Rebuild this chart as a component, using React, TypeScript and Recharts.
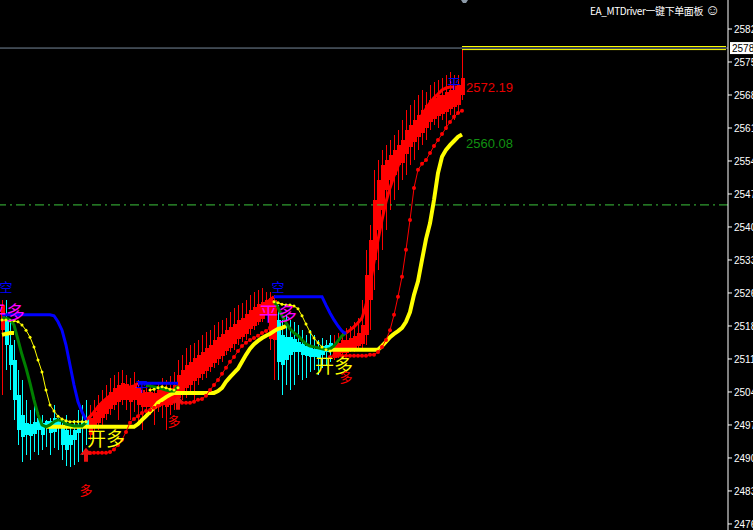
import React from 'react';
import {
  ComposedChart,
  XAxis,
  YAxis,
  Bar,
  Line,
  ReferenceLine,
  ReferenceDot,
} from 'recharts';

// candles (oldest first)
const opens = [
  2518.0, 2520.2, 2514.8, 2511.6, 2504.1, 2499.8, 2498.0, 2497.8, 2498.2, 2499.0,
  2498.0, 2498.5, 2498.5, 2499.0, 2498.9, 2497.0, 2496.5, 2495.5, 2496.5, 2497.5,
  2498.5, 2499.0, 2495.5, 2497.0, 2498.0, 2499.0, 2500.0, 2501.0, 2502.0, 2502.5,
  2503.0, 2503.0, 2502.5, 2503.0, 2502.0, 2501.5, 2501.5, 2501.5, 2501.0, 2501.5,
  2502.0, 2501.5, 2502.0, 2502.5, 2503.5, 2504.5, 2505.5, 2506.2, 2507.0, 2507.7,
  2508.5, 2509.2, 2510.0, 2511.0, 2511.8, 2512.5, 2513.5, 2514.2, 2515.0, 2516.0,
  2516.5, 2517.2, 2518.2, 2519.0, 2519.8, 2520.5, 2521.5, 2516.0, 2515.9, 2520.2,
  2517.0, 2516.5, 2516.5, 2516.0, 2515.5, 2515.0, 2514.5, 2514.5, 2514.0, 2514.0,
  2514.5, 2514.8, 2515.2, 2512.0, 2512.5, 2513.0, 2513.0, 2513.5, 2514.0, 2514.5,
  2515.0, 2517.0, 2524.5, 2533.1, 2539.6, 2543.9, 2548.2, 2550.3, 2551.4, 2553.5,
  2554.0, 2556.0, 2557.5, 2558.5, 2559.5, 2560.5, 2561.5, 2562.8, 2563.5, 2564.0,
  2564.5, 2565.0, 2565.5, 2566.0, 2566.5, 2568.6,
];
const highs = [
  2524.5, 2524.5, 2520.2, 2515.9, 2509.4, 2507.3, 2503.0, 2500.8, 2501.9, 2500.4,
  2499.8, 2498.7, 2499.1, 2501.9, 2499.1, 2498.7, 2499.8, 2497.6, 2498.7, 2500.8,
  2501.9, 2503.0, 2501.9, 2503.0, 2504.1, 2505.1, 2506.2, 2507.7, 2508.4, 2509.0,
  2509.4, 2508.4, 2507.7, 2509.0, 2507.3, 2506.9, 2506.2, 2506.6, 2506.0, 2506.9,
  2507.7, 2507.3, 2508.2, 2509.0, 2511.6, 2512.7, 2514.2, 2514.8, 2515.3, 2515.9,
  2517.0, 2517.6, 2518.0, 2519.1, 2519.8, 2520.2, 2520.6, 2521.9, 2522.8, 2523.4,
  2523.9, 2524.5, 2525.6, 2526.2, 2526.7, 2527.1, 2526.2, 2526.2, 2525.6, 2523.4,
  2520.2, 2521.3, 2520.2, 2519.8, 2519.1, 2518.0, 2517.0, 2518.0, 2517.0, 2515.9,
  2516.3, 2515.9, 2517.0, 2517.0, 2517.4, 2518.0, 2518.5, 2518.9, 2519.8, 2520.6,
  2524.5, 2535.3, 2540.6, 2552.5, 2554.6, 2556.8, 2557.8, 2558.9, 2560.0, 2561.1,
  2563.2, 2565.4, 2566.5, 2567.5, 2568.6, 2569.7, 2569.2, 2570.7, 2571.4, 2571.8,
  2572.3, 2572.9, 2573.5, 2572.9, 2572.9, 2578.3,
];
const lows = [
  2504.1, 2509.4, 2505.1, 2498.7, 2493.3, 2489.6, 2491.2, 2490.1, 2491.8, 2491.2,
  2492.3, 2492.9, 2491.2, 2492.7, 2492.3, 2490.1, 2488.8, 2488.6, 2489.0, 2489.6,
  2491.2, 2493.3, 2494.4, 2496.1, 2496.5, 2497.6, 2498.7, 2499.8, 2500.8, 2498.7,
  2501.9, 2500.8, 2498.7, 2500.4, 2497.6, 2496.5, 2499.1, 2499.8, 2497.6, 2500.4,
  2499.1, 2496.5, 2499.8, 2500.8, 2501.9, 2503.0, 2503.4, 2504.1, 2502.4, 2506.2,
  2507.3, 2507.7, 2509.0, 2509.9, 2510.5, 2511.2, 2512.7, 2513.3, 2513.8, 2514.8,
  2515.5, 2515.9, 2517.0, 2518.0, 2519.1, 2519.8, 2521.3, 2513.8, 2507.3, 2507.3,
  2504.1, 2506.2, 2505.1, 2506.2, 2508.4, 2507.3, 2507.7, 2509.0, 2509.4, 2508.4,
  2509.9, 2510.5, 2511.2, 2511.6, 2512.0, 2512.7, 2512.7, 2513.3, 2513.3, 2513.8,
  2514.2, 2514.8, 2518.0, 2526.7, 2531.0, 2535.3, 2539.6, 2543.9, 2546.0, 2548.2,
  2550.3, 2551.4, 2553.5, 2554.6, 2556.8, 2557.8, 2558.9, 2561.1, 2562.1, 2561.5,
  2563.2, 2561.1, 2564.3, 2563.2, 2565.0, 2567.5,
];
const closes = [
  2523.4, 2514.8, 2510.5, 2503.0, 2496.5, 2495.0, 2495.5, 2495.2, 2495.6, 2496.5,
  2495.5, 2497.0, 2495.9, 2496.1, 2497.0, 2493.3, 2492.3, 2493.3, 2494.4, 2495.9,
  2497.0, 2497.6, 2499.1, 2500.4, 2501.9, 2502.6, 2503.4, 2504.7, 2505.6, 2506.2,
  2506.6, 2506.4, 2505.8, 2506.2, 2505.6, 2505.1, 2504.7, 2504.7, 2504.5, 2505.1,
  2505.6, 2505.1, 2505.6, 2506.2, 2508.4, 2509.4, 2510.5, 2511.2, 2512.0, 2512.7,
  2513.3, 2514.2, 2514.8, 2515.9, 2516.5, 2517.2, 2518.0, 2518.7, 2519.3, 2520.2,
  2520.6, 2521.5, 2522.4, 2523.0, 2523.6, 2524.1, 2524.5, 2524.9, 2524.5, 2511.2,
  2510.5, 2511.6, 2512.7, 2513.3, 2513.3, 2512.7, 2512.5, 2512.2, 2512.2, 2512.0,
  2512.7, 2513.3, 2514.2, 2514.8, 2515.3, 2515.9, 2515.9, 2516.3, 2516.8, 2517.4,
  2519.1, 2529.9, 2537.4, 2546.0, 2550.3, 2553.5, 2554.6, 2555.7, 2556.8, 2557.8,
  2558.9, 2561.1, 2562.1, 2563.2, 2564.3, 2565.4, 2566.5, 2567.5, 2568.0, 2568.6,
  2568.6, 2569.2, 2569.7, 2570.1, 2570.7, 2572.19,
];
// bars painted cyan (down trend), the rest red
const cyanRanges = [[1, 21], [69, 82]];

// indicator lines, as first bar + values
const blueLine = [
  { from: 0, v: [2521.3, 2521.3, 2521.3, 2521.3, 2521.3, 2521.3, 2521.3, 2521.3, 2521.3, 2521.3, 2521.3, 2521.3, 2521.3, 2521.1, 2519.8, 2518.0, 2514.8, 2510.5, 2506.2, 2502.6, 2500.4, 2498.7] },
  { from: 34, v: [2506.6, 2506.6, 2506.6, 2506.6, 2506.6, 2506.6, 2506.6, 2506.6, 2506.6, 2506.6, 2506.6] },
  { from: 68, v: [2525.2, 2525.2, 2525.2, 2525.2, 2525.2, 2525.2, 2525.2, 2525.2, 2525.2, 2525.2, 2525.2, 2525.2, 2525.2, 2523.4, 2521.7, 2520.2, 2518.9, 2517.8, 2517.2] },
];
const redLine = [
  { from: 21, v: [2498.7, 2499.4, 2500.4, 2501.5, 2502.4, 2503.2, 2503.9, 2504.5, 2504.9, 2505.4, 2505.6, 2505.8, 2506.0, 2506.6] },
  { from: 44, v: [2506.6, 2507.1, 2507.7, 2508.4, 2509.0, 2509.7, 2510.5, 2511.2, 2512.0, 2512.9, 2513.8, 2514.6, 2515.5, 2516.3, 2517.4, 2518.3, 2519.1, 2520.0, 2520.9, 2521.7, 2522.4, 2523.2, 2523.9, 2524.5, 2525.2] },
  { from: 86, v: [2517.4, 2518.0, 2518.7, 2519.6, 2520.6, 2523.4, 2527.7, 2532.7, 2537.4, 2541.7, 2545.6, 2548.6, 2551.2, 2553.3, 2555.5, 2557.6, 2559.6, 2561.3, 2562.8, 2564.3, 2565.6, 2566.9, 2568.0, 2568.8, 2569.7, 2570.1, 2570.3, 2570.3, 2570.3, 2570.3] },
];
const greenLine = [
  { from: 0, v: [2520.6, 2520.6, 2520.2, 2519.1, 2515.9, 2512.7, 2509.9, 2506.6, 2503.0, 2499.8, 2497.6, 2497.2, 2497.6, 2498.3, 2498.7, 2498.5, 2497.8, 2497.6, 2497.4, 2497.4, 2497.4, 2498.1] },
  { from: 36, v: [2506.2, 2506.0, 2505.8, 2505.6, 2505.4, 2505.1, 2504.9, 2504.9, 2506.0] },
  { from: 68, v: [2524.3, 2522.8, 2521.1, 2519.6, 2518.3, 2517.4, 2516.8, 2515.9, 2515.0, 2514.6, 2514.4, 2514.2, 2514.0, 2513.8, 2514.0, 2514.6, 2515.7, 2516.8, 2517.4] },
];
const yellowDotted = [
  { from: 0, v: [2520.2, 2520.2, 2520.0, 2520.0, 2519.8, 2519.1, 2518.0, 2516.5, 2514.4, 2511.6, 2509.0, 2505.1, 2501.9, 2500.6, 2499.5, 2498.9, 2498.5, 2498.3, 2498.3, 2498.3, 2498.3, 2498.3] },
  { from: 37, v: [2505.1, 2505.3, 2505.6, 2505.8, 2505.6, 2505.3, 2505.1, 2505.6] },
  { from: 68, v: [2524.1, 2523.9, 2523.6, 2523.4, 2523.4, 2523.2, 2522.6, 2521.1, 2519.3, 2517.6, 2516.3, 2515.3, 2514.4, 2513.8, 2513.5] },
];
const yellowTrend = [
  { from: 0, v: [2517.0, 2517.2, 2517.4, 2517.4] },
  { from: 11, v: [2497.2, 2497.2, 2497.2, 2497.2, 2497.2, 2497.2, 2497.2, 2497.2, 2497.2, 2497.2, 2497.2, 2497.2, 2497.2, 2497.2, 2497.2, 2497.2, 2497.2, 2497.2, 2497.2, 2497.2, 2497.2, 2497.2, 2497.2, 2497.8, 2498.7, 2499.5, 2500.4, 2501.3, 2502.4, 2503.0, 2503.6, 2504.1, 2504.5, 2504.5, 2504.5, 2504.5, 2504.5, 2504.5, 2504.5, 2504.5, 2504.5, 2504.5, 2504.5, 2504.9, 2505.6, 2506.9, 2507.9, 2508.8, 2509.7, 2511.2, 2512.7, 2514.0, 2515.0, 2515.7, 2516.3, 2516.8, 2517.2, 2517.8, 2518.3, 2518.5, 2518.9] },
  { from: 82, v: [2513.8, 2513.8, 2513.8, 2513.8, 2513.8, 2513.8, 2513.8, 2513.8, 2513.8, 2513.8, 2513.8, 2513.8, 2513.8, 2514.6, 2515.5, 2516.5, 2517.2, 2517.8, 2518.5, 2519.8, 2521.9, 2525.6, 2528.5, 2533.1, 2537.6, 2541.0, 2546.0, 2551.8, 2555.3, 2556.8, 2557.8, 2558.7, 2559.6, 2560.1] },
];
const redDotted = [
  { from: 21, v: [2491.6, 2491.6, 2491.6, 2491.6, 2491.6, 2491.6, 2491.8, 2492.3, 2493.3, 2494.4, 2496.1, 2498.1, 2498.9, 2499.5, 2500.2, 2500.6, 2500.8, 2501.3, 2501.7, 2502.1, 2502.4, 2502.6, 2502.6, 2502.6, 2502.4, 2502.4, 2502.4, 2502.6, 2503.0, 2503.2, 2503.9, 2505.1, 2506.2, 2507.3, 2508.6, 2509.9, 2511.2, 2512.2, 2513.5, 2514.6, 2515.3, 2515.9, 2516.3, 2516.8, 2517.4, 2517.8, 2518.5, 2518.9] },
  { from: 82, v: [2512.2, 2512.5, 2512.5, 2512.5, 2512.5, 2512.5, 2512.5, 2512.5, 2512.5, 2512.5, 2512.7, 2512.7, 2513.3, 2514.4, 2515.9, 2518.0, 2521.3, 2525.2, 2529.5, 2535.3, 2541.7, 2548.6, 2552.5, 2553.8, 2554.6, 2556.1, 2557.6, 2558.9, 2560.2, 2561.5, 2562.8, 2563.9, 2564.7, 2565.2] },
];

// price scale
const priceTicks = [2476.3, 2483.4, 2490.5, 2497.6, 2504.7, 2511.8, 2518.9, 2526.0, 2533.1, 2540.2, 2547.3, 2554.4, 2561.5, 2568.6, 2575.7, 2582.8];
const bidPrice = 2578.7;
const levelLine = 2544.95;

// chart objects
const signs = [
  { i: 1, p: 2527.3, text: '空', color: '#0000ff', size: 13 },
  { i: 1, p: 2522.1, text: '平多', color: '#ff00ff', size: 19 },
  { i: 69, p: 2527.3, text: '空', color: '#0000ff', size: 13 },
  { i: 69, p: 2521.9, text: '平多', color: '#ff00ff', size: 19 },
  { i: 26, p: 2495.0, text: '开多', color: '#ffff00', size: 19 },
  { i: 83, p: 2510.7, text: '开多', color: '#ffff00', size: 19 },
  { i: 21, p: 2483.8, text: '多', color: '#ff0000', size: 13 },
  { i: 43, p: 2498.5, text: '多', color: '#ff0000', size: 13 },
  { i: 86, p: 2508.0, text: '多', color: '#ff0000', size: 13 },
  { i: 35, p: 2506.0, text: '平', color: '#0000ff', size: 13 },
  { i: 113, p: 2571.2, text: '平', color: '#0000ff', size: 13 },
];
const buyArrows = [{ i: 21, p: 2491.2 }, { i: 44, p: 2502.4 }];
const lastTags = [
  { p: 2572.19, color: '#e80000' },
  { p: 2560.08, color: '#119111' },
];

const BARS = opens.length;
const SLOTS = 182; // empty room on the right (chart shift)

const expand = (segs: { from: number; v: number[] }[]) => {
  const out: (number | null)[] = new Array(BARS).fill(null);
  segs.forEach(s => s.v.forEach((val, k) => { out[s.from + k] = val; }));
  return out;
};

const blueArr = expand(blueLine);
const redArr = expand(redLine);
const greenArr = expand(greenLine);
const yDotArr = expand(yellowDotted);
const yTrendArr = expand(yellowTrend);
const rDotArr = expand(redDotted);

const data = Array.from({ length: SLOTS }, (_, i) => {
  if (i >= BARS) return { i };
  return {
    i,
    range: [lows[i], highs[i]],
    open: opens[i],
    close: closes[i],
    high: highs[i],
    low: lows[i],
    cyan: cyanRanges.some(([a, b]) => i >= a && i <= b),
    blue: blueArr[i],
    red: redArr[i],
    green: greenArr[i],
    ydot: yDotArr[i],
    ytrend: yTrendArr[i],
    rdot: rDotArr[i],
  };
});

const Candle = (props: any) => {
  const { x, y, width, height, payload } = props;
  if (!payload || payload.high == null) return null;
  const h = Math.abs(height);
  const top = Math.min(y, y + height);
  const k = payload.high > payload.low ? h / (payload.high - payload.low) : 0;
  const yOf = (v: number) => top + (payload.high - v) * k;
  const yo = yOf(payload.open);
  const yc = yOf(payload.close);
  const cx = Math.floor(x + width / 2);
  const color = payload.cyan ? '#00ffff' : '#ff0000';
  return (
    <g shapeRendering="crispEdges">
      <rect x={cx} y={top} width={1} height={Math.max(1, h)} fill={color} />
      <rect x={cx - 1} y={Math.min(yo, yc)} width={4} height={Math.max(1, Math.abs(yo - yc))} fill={color} />
    </g>
  );
};

const cjk = '"Noto Sans CJK SC", "Liberation Sans", sans-serif';
const latin = '"Liberation Sans", Arial, sans-serif';

const App = () => {
  return (
    <div style={{ position: 'absolute', left: 0, top: 0, width: 753, height: 530, background: '#000', overflow: 'hidden' }}>
      <ComposedChart width={753} height={530} data={data} margin={{ top: 0, right: 0, left: 0, bottom: 0 }}>
        <XAxis dataKey="i" type="category" hide />
        <YAxis
          orientation="right"
          width={25}
          domain={[2475, 2589.04]}
          allowDataOverflow
          ticks={priceTicks}
          tickFormatter={(v: number) => v.toFixed(2)}
          stroke="#ffffff"
          tickSize={4}
          tickMargin={2}
          tick={{ fill: '#ffffff', fontSize: 10, fontFamily: latin, textAnchor: 'start' }}
        />
        <ReferenceLine y={levelLine} stroke="#3cc43c" strokeDasharray="9 4 2 4" />
        <ReferenceLine y={bidPrice} stroke="#778899" />
        <ReferenceLine segment={[{ x: 115, y: bidPrice + 0.33 }, { x: 181, y: bidPrice + 0.33 }]} stroke="#ffff00" />
        <ReferenceLine segment={[{ x: 115, y: bidPrice - 0.33 }, { x: 181, y: bidPrice - 0.33 }]} stroke="#ffff00" />

        <Bar dataKey="range" barSize={3} shape={<Candle />} isAnimationActive={false} />

        <Line dataKey="ytrend" type="linear" stroke="#ffff00" strokeWidth={4} dot={false} activeDot={false} isAnimationActive={false} />
        <Line dataKey="rdot" type="linear" stroke="#ff0000" strokeWidth={1} dot={{ r: 2, fill: '#ff0000', stroke: 'none' }} activeDot={false} isAnimationActive={false} />
        <Line dataKey="ydot" type="linear" stroke="#ffff00" strokeWidth={1} dot={{ r: 1.5, fill: '#ffff00', stroke: 'none' }} activeDot={false} isAnimationActive={false} />
        <Line dataKey="red" type="linear" stroke="#ff0000" strokeWidth={3} dot={false} activeDot={false} isAnimationActive={false} />
        <Line dataKey="green" type="linear" stroke="#008000" strokeWidth={3} dot={false} activeDot={false} isAnimationActive={false} />
        <Line dataKey="blue" type="linear" stroke="#0000ff" strokeWidth={3} dot={false} activeDot={false} isAnimationActive={false} />

        {buyArrows.map((a, k) => (
          <ReferenceDot
            key={'a' + k}
            x={a.i}
            y={a.p}
            r={0}
            shape={(p: any) => (
              <polygon
                points={`${p.cx},${p.cy - 7} ${p.cx + 6},${p.cy} ${p.cx + 2},${p.cy} ${p.cx + 2},${p.cy + 7} ${p.cx - 2},${p.cy + 7} ${p.cx - 2},${p.cy} ${p.cx - 6},${p.cy}`}
                fill="#ee1111"
              />
            )}
          />
        ))}
        {signs.map((s, k) => (
          <ReferenceDot
            key={'s' + k}
            x={s.i}
            y={s.p}
            r={0}
            shape={(p: any) => (
              <text x={p.cx} y={p.cy} textAnchor="middle" dominantBaseline="central" fill={s.color} fontSize={s.size} fontFamily={cjk}>
                {s.text}
              </text>
            )}
          />
        ))}
        {lastTags.map((t, k) => (
          <ReferenceDot
            key={'t' + k}
            x={BARS - 1}
            y={t.p}
            r={0}
            shape={(p: any) => (
              <text x={p.cx + 4} y={p.cy + 9} dominantBaseline="central" fill={t.color} fontSize={13} fontFamily={latin}>
                {t.p.toFixed(2)}
              </text>
            )}
          />
        ))}
        <ReferenceDot
          x={SLOTS - 1}
          y={bidPrice}
          r={0}
          shape={(p: any) => (
            <g>
              <rect x={p.cx + 4} y={p.cy - 6} width={30} height={12} fill="#ffffff" />
              <text x={p.cx + 6} y={p.cy} dominantBaseline="central" fill="#000000" fontSize={10} fontFamily={latin}>
                {bidPrice.toFixed(2)}
              </text>
            </g>
          )}
        />
        <ReferenceDot
          x={BARS - 1}
          y={2589.04}
          r={0}
          ifOverflow="visible"
          shape={(p: any) => (
            <polygon points={`${p.cx - 1},0 ${p.cx + 6},0 ${p.cx + 4},3 ${p.cx + 1},3`} fill="#8c9aa8" />
          )}
        />
      </ComposedChart>
      <div
        style={{
          position: 'absolute',
          top: 1,
          right: 33,
          color: '#ffffff',
          fontSize: 10,
          letterSpacing: -0.4,
          fontFamily: cjk,
          whiteSpace: 'nowrap',
          lineHeight: '15px',
        }}
      >
        EA_MTDriver一键下单面板<span style={{ fontSize: 15, marginLeft: 2 }}>☺</span>
      </div>
    </div>
  );
};

export default App;
